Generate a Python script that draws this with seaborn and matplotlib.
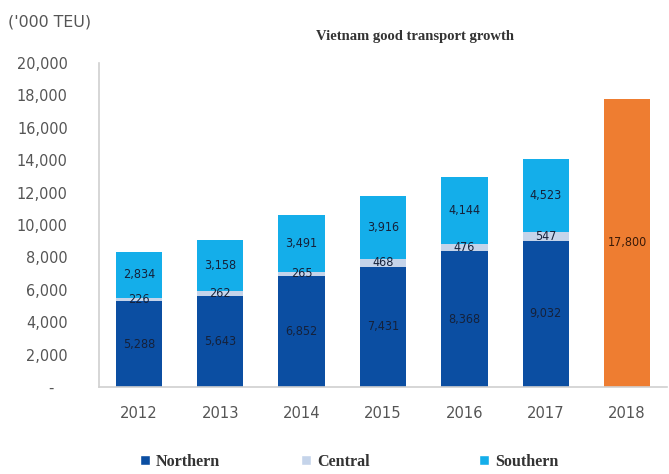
import matplotlib
matplotlib.use("Agg")
import matplotlib.pyplot as plt
import seaborn as sns
import pandas as pd
import numpy as np
from matplotlib.ticker import FuncFormatter
from matplotlib.patches import Patch

years = ["2012", "2013", "2014", "2015", "2016", "2017", "2018"]
stack_years = ["2012", "2013", "2014", "2015", "2016", "2017"]
northern = [5288, 5643, 6852, 7431, 8368, 9032]
central = [226, 262, 265, 468, 476, 547]
southern = [2834, 3158, 3491, 3916, 4144, 4523]
forecast_year = ["2018"]
forecast = [17800]

c_north = "#0b4ea2"
c_central = "#c5d4ea"
c_south = "#14aeea"
c_orange = "#ee7d31"

sns.set_theme(style="white")
plt.rcParams["font.family"] = ["DejaVu Sans"]
plt.rcParams["font.stretch"] = "condensed"
serif = "Liberation Serif"

fig = plt.figure(figsize=(6.69, 4.74), dpi=100)
ax = fig.add_axes([0.148, 0.1835, 0.849, 0.6835])

n = np.array(northern)
c = np.array(central)
s = np.array(southern)
tot = n + c + s
nc = n + c

df = pd.DataFrame({"year": stack_years, "north": n, "nc": nc, "tot": tot})
dff = pd.DataFrame({"year": forecast_year, "val": forecast})

w = 0.57
sns.barplot(data=df, x="year", y="tot", order=years, color=c_south, saturation=1,
            width=w, ax=ax, edgecolor="none")
sns.barplot(data=df, x="year", y="nc", order=years, color=c_central, saturation=1,
            width=w, ax=ax, edgecolor="none")
sns.barplot(data=df, x="year", y="north", order=years, color=c_north, saturation=1,
            width=w, ax=ax, edgecolor="none")
sns.barplot(data=dff, x="year", y="val", order=years, color=c_orange, saturation=1,
            width=w, ax=ax, edgecolor="none")

lab_kw = dict(ha="center", va="center", fontsize=9, color="#15213a", stretch="condensed")
for i in range(len(stack_years)):
    ax.text(i, n[i] / 2, f"{n[i]:,}", **lab_kw)
    ax.text(i, n[i] + c[i] / 2, f"{c[i]:,}", **lab_kw)
    ax.text(i, nc[i] + s[i] / 2, f"{s[i]:,}", **lab_kw)
ax.text(6, forecast[0] / 2, f"{forecast[0]:,}", ha="center", va="center",
        fontsize=9, color="#3a1a08", stretch="condensed")

ax.set_ylim(0, 20000)
ax.set_xlim(-0.49, 6.49)
ax.set_yticks(np.arange(0, 20001, 2000))
ax.yaxis.set_major_formatter(FuncFormatter(lambda v, p: "-   " if v == 0 else f"{int(v):,}"))
ax.tick_params(axis="y", labelsize=11.6, labelcolor="#555555", length=0, pad=22.5)
ax.tick_params(axis="x", labelsize=11.8, labelcolor="#555555", length=0, pad=14)
ax.set_xlabel("")
ax.set_ylabel("")
for sp in ["top", "right"]:
    ax.spines[sp].set_visible(False)
ax.spines["left"].set_color("#d0d0d0")
ax.spines["bottom"].set_color("#d0d0d0")
ax.spines["left"].set_linewidth(1.2)
ax.spines["bottom"].set_linewidth(1.2)

fig.text(0.012, 0.953, "('000 TEU)", fontsize=11.4, color="#555555", ha="left", va="center",
         stretch="normal")
fig.text(0.62, 0.922, "Vietnam good transport growth", fontsize=10.5, fontweight="bold",
         family=serif, color="#333333", ha="center", va="center")

entries = [("Northern", c_north, 140), ("Central", c_central, 301), ("Southern", c_south, 479)]
for label, col, xpx in entries:
    lg = fig.legend(handles=[Patch(facecolor=col, label=label)], loc="center left",
                    bbox_to_anchor=(xpx / 669, 1 - 462 / 474), frameon=False,
                    handlelength=0.6, handleheight=0.6, handletextpad=0.4,
                    borderaxespad=0, borderpad=0,
                    prop={"family": serif, "weight": "bold", "size": 11.6})
    for t in lg.get_texts():
        t.set_color("#333333")

fig.savefig("out.png", dpi=100)
